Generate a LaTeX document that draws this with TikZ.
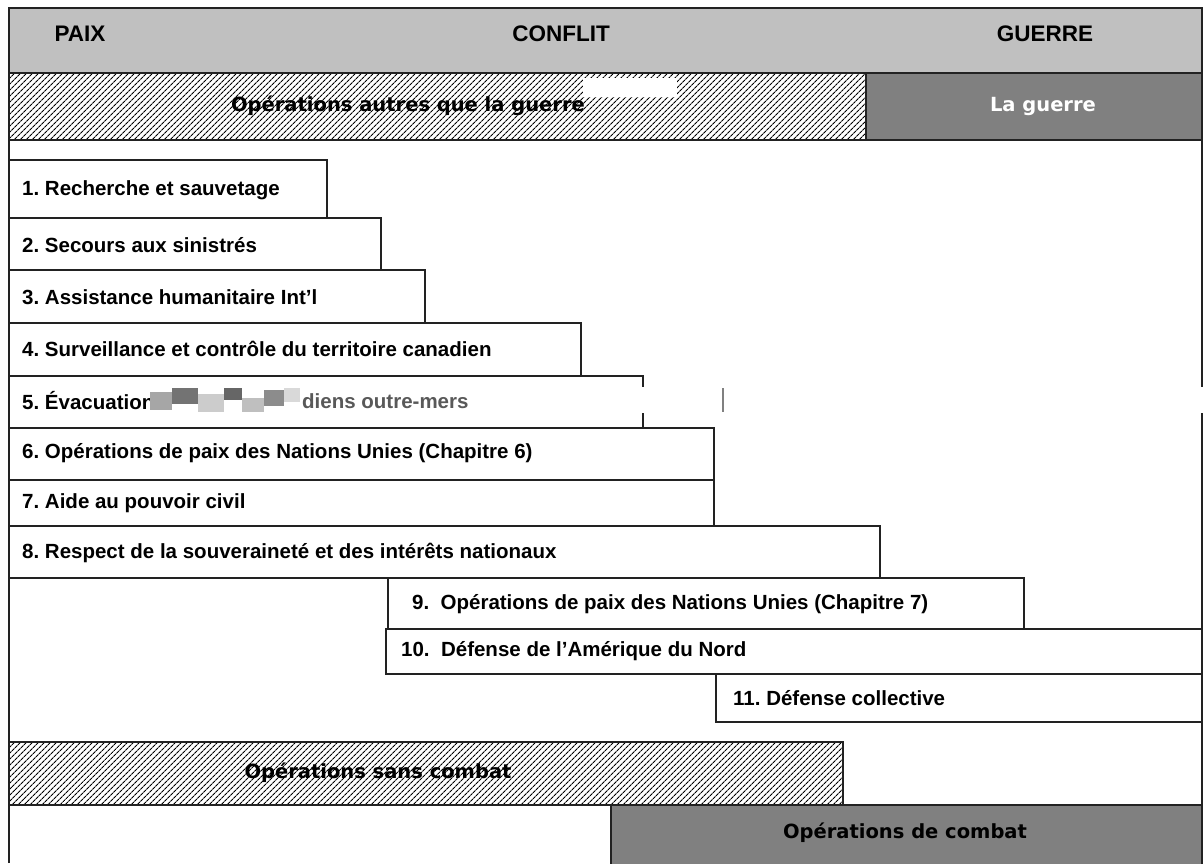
\documentclass[tikz,border=0pt]{standalone}
\usepackage{fontspec}
\setmainfont{Liberation Sans}
\newfontfamily\bandfont{DejaVu Sans}
\usetikzlibrary{patterns.meta}
\definecolor{grisclair}{HTML}{C0C0C0}
\definecolor{grisfonce}{HTML}{808080}
\definecolor{traitgris}{HTML}{222222}
\frenchspacing

\tikzset{
  cadre/.style={draw=traitgris, line width=1.8pt},
  case/.style={draw=traitgris, line width=1.3pt, fill=white},
  hachure/.style={pattern={Lines[angle=45,distance=4pt,line width=1.1pt]}, pattern color=black},
  titre/.style={inner sep=0pt, font=\fontsize{22.5}{26}\selectfont\bfseries},
  etiq/.style={anchor=west, inner sep=0pt, font=\fontsize{20.5}{24}\selectfont\bfseries},
  bande/.style={inner sep=0pt, font=\bandfont\fontsize{19.5}{23}\selectfont\bfseries},
}

\begin{document}
\begin{tikzpicture}[x=1pt,y=-1pt]
\useasboundingbox (0,0) rectangle (1203,863);

% en-tete : paix / conflit / guerre
\fill[grisclair] (9,8) rectangle (1202,73);
\node[titre] (paix) at (80,34) {PAIX};
\node[titre] (conflit) at (561,34) {CONFLIT};
\node[titre] (guerre) at (1045,34) {GUERRE};

% bande : autres que la guerre / la guerre
\fill[white] (9,73) rectangle (866,140);
\fill[hachure] (9,73) rectangle (866,140);
\fill[grisfonce] (866,73) rectangle (1202,140);
\draw[case, fill=none] (9,73) -- (1202,73);
\draw[case, fill=none] (9,140) -- (1202,140);
\draw[case, fill=none] (866,73) -- (866,140);
\node[bande] (autres) at (408,106) {Opérations autres que la guerre};
\fill[white] (583,78) rectangle (677,97);
\node[bande, text=white] (laguerre) at (1043,106) {La guerre};

% operations
\draw[case] (9,160) rectangle (327,218);
\node[etiq] (op1) at (22,190) {1. Recherche et sauvetage};
\draw[case] (9,218) rectangle (381,270);
\node[etiq] (op2) at (22,245) {2. Secours aux sinistrés};
\draw[case] (9,270) rectangle (425,323);
\node[etiq] (op3) at (22,297) {3. Assistance humanitaire Int’l};
\draw[case] (9,323) rectangle (581,376);
\node[etiq] (op4) at (22,349) {4. Surveillance et contrôle du territoire canadien};
\draw[case] (9,376) rectangle (643,428);
\node[etiq] (op5) at (22,401) {5. Évacuation};
\node[etiq, text=black!65] (op5b) at (302,401) {diens outre-mers};
% zone brouillee
\fill[black!35] (150,392) rectangle (172,410);
\fill[black!55] (172,388) rectangle (198,404);
\fill[black!20] (198,394) rectangle (224,412);
\fill[black!60] (224,388) rectangle (242,400);
\fill[black!25] (242,398) rectangle (264,412);
\fill[black!45] (264,390) rectangle (284,406);
\fill[black!15] (284,388) rectangle (300,402);
\draw[case] (9,428) rectangle (714,480);
\node[etiq] (op6) at (22,453) {6. Opérations de paix des Nations Unies (Chapitre 6)};
\draw[case] (9,480) rectangle (714,526);
\node[etiq] (op7) at (22,503) {7. Aide au pouvoir civil};
\draw[case] (9,526) rectangle (880,578);
\node[etiq] (op8) at (22,553) {8. Respect de la souveraineté et des intérêts nationaux};
\draw[case] (388,578) rectangle (1024,629);
\node[etiq] (op9) at (412,604) {9.~ Opérations de paix des Nations Unies (Chapitre 7)};
\draw[case] (386,629) rectangle (1202,674);
\node[etiq] (op10) at (401,651) {10.~ Défense de l’Amérique du Nord};
\draw[case] (716,674) rectangle (1202,722);
\node[etiq] (op11) at (733,698) {11. Défense collective};

% sans combat / combat
\fill[white] (9,742) rectangle (843,805);
\fill[hachure] (9,742) rectangle (843,805);
\draw[case, fill=none] (9,742) rectangle (843,805);
\node[bande] (sanscombat) at (378,773) {Opérations sans combat};
\draw[case, fill=grisfonce] (611,805) rectangle (1202,870);
\node[bande] (combat) at (905,833) {Opérations de combat};

% cadre
\draw[cadre] (9,863) -- (9,8) -- (1202,8) -- (1202,863);
\fill[white] (600,387) rectangle (1203,413);
\draw[black!50, line width=1.3pt] (723,388) -- (723,412);
\end{tikzpicture}
\end{document}
